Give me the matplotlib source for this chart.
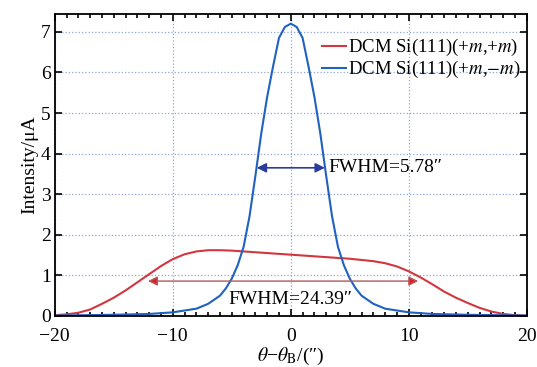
import matplotlib
matplotlib.use('Agg')
import matplotlib.pyplot as plt
import numpy as np
from matplotlib.ticker import MultipleLocator

plt.rcParams['font.family'] = ['Liberation Serif', 'DejaVu Serif']
plt.rcParams['mathtext.fontset'] = 'stix'

# (+m,+m) curve
x_pp = [-20, -19, -18, -17, -16, -15, -14, -13, -12, -11, -10, -9, -8, -7, -6, -5, -4, -3, -2,
        -1, 0, 1, 2, 3, 4, 5, 6, 7, 8, 9, 10, 11, 12, 13, 14, 15, 16, 17, 18, 19, 20]
y_pp = [0.02, 0.04, 0.08, 0.16, 0.3, 0.45, 0.63, 0.83, 1.03, 1.23, 1.4, 1.52, 1.59, 1.62, 1.62,
        1.61, 1.59, 1.57, 1.55, 1.53, 1.51, 1.49, 1.47, 1.45, 1.43, 1.41, 1.38, 1.35, 1.3, 1.22,
        1.1, 0.95, 0.78, 0.6, 0.45, 0.32, 0.2, 0.11, 0.05, 0.02, 0.01]

# (+m,-m) curve
x_pm = [-20, -15, -12, -10, -8, -7, -6, -5.5, -5, -4.5, -4, -3.5, -3, -2.5, -2, -1.5, -1, -0.5, 0,
        0.5, 1, 1.5, 2, 2.5, 3, 3.5, 4, 4.5, 5, 5.5, 6, 7, 8, 10, 12, 15, 20]
y_pm = [0.01, 0.03, 0.05, 0.09, 0.18, 0.3, 0.5, 0.68, 0.92, 1.25, 1.7, 2.45, 3.45, 4.5, 5.4, 6.15,
        6.85, 7.12, 7.2, 7.12, 6.85, 6.15, 5.4, 4.5, 3.45, 2.45, 1.7, 1.25, 0.92, 0.68, 0.5, 0.3,
        0.18, 0.09, 0.05, 0.03, 0.01]

fwhm_narrow = (-2.89, 2.89, 3.65)
fwhm_wide = (-12.1, 10.8, 0.86)

fig = plt.figure(figsize=(5.37, 3.67), dpi=100)
ax = fig.add_axes([0.102, 0.139, 0.879, 0.823])

ax.plot(x_pp, y_pp, color='#d2363f', lw=1.5, label=r'DCM Si(111)(+$m$,+$m$)')
ax.plot(x_pm, y_pm, color='#1f62c0', lw=1.5, label=r'DCM Si(111)(+$m$,$-m$)')

ax.annotate('', xy=(fwhm_narrow[0], fwhm_narrow[2]), xytext=(fwhm_narrow[1], fwhm_narrow[2]),
            arrowprops=dict(arrowstyle='<|-|>', color='#2b3d9c', lw=1.2, mutation_scale=14,
                            shrinkA=0, shrinkB=0))
ax.text(3.2, fwhm_narrow[2], 'FWHM=5.78″', fontsize=14, va='center', ha='left')

ax.annotate('', xy=(fwhm_wide[0], fwhm_wide[2]), xytext=(fwhm_wide[1], fwhm_wide[2]),
            arrowprops=dict(arrowstyle='<|-|>', lw=1.0, mutation_scale=14, shrinkA=0, shrinkB=0,
                            fc='#e02020', ec='#b05a5a'))
ax.text(0, 0.4, 'FWHM=24.39″', fontsize=14, va='center', ha='center')

ax.set_xlim(-20, 20)
ax.set_ylim(0, 7.44)
ax.set_xticks([-20, -10, 0, 10, 20])
ax.set_xticklabels(['−20', '−10', '0', '10', '20'])
ax.xaxis.set_minor_locator(MultipleLocator(1))
ax.yaxis.set_major_locator(MultipleLocator(1))
ax.tick_params(direction='in', which='both', top=True, right=True, labelsize=14, width=1.2)
ax.tick_params(which='major', length=5)
ax.tick_params(which='minor', length=3)
ax.tick_params(axis='x', pad=9)
ax.tick_params(axis='y', pad=3)
ax.grid(True, which='major', ls=':', color='#8fa6d6', lw=0.9)
for s in ax.spines.values():
    s.set_linewidth(1.3)

ax.set_xlabel(r'$\theta$−$\theta_{\mathrm{B}}$/(″)', fontsize=14, labelpad=0)
ax.set_ylabel('Intensity/μA', fontsize=14, labelpad=2)

ax.legend(loc='upper right', bbox_to_anchor=(1.01, 0.96), frameon=False, fontsize=13.5,
          handlelength=1.3, handletextpad=0.1, labelspacing=0.05, borderaxespad=0.2)

fig.savefig('out.png', dpi=100)
